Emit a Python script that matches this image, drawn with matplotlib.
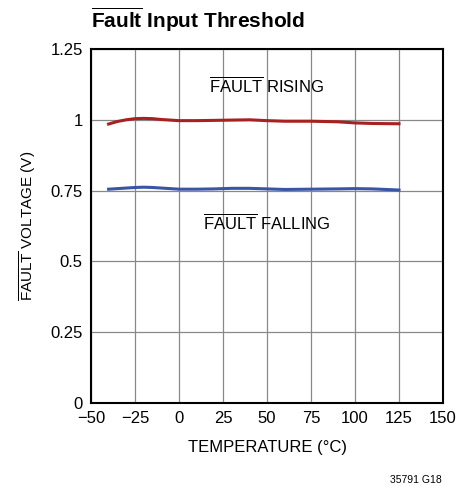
import matplotlib
matplotlib.use("Agg")
import matplotlib.pyplot as plt
from matplotlib import font_manager

# pick a narrow font if there is one
names = set(f.name for f in font_manager.fontManager.ttflist)
fam = "Liberation Sans Narrow" if "Liberation Sans Narrow" in names else "Liberation Sans"
plt.rcParams['font.family'] = [fam, 'DejaVu Sans']
plt.rcParams['mathtext.fontset'] = 'custom'
plt.rcParams['mathtext.rm'] = fam
plt.rcParams['mathtext.bf'] = fam + ':bold'

# data
temp = [-40, -35, -30, -25, -20, -15, -10, 0, 10, 20, 30, 40, 50, 60, 75, 90, 100, 110, 125]
rising = [0.985, 0.994, 1.000, 1.004, 1.005, 1.004, 1.001, 0.997, 0.997, 0.998, 0.999, 1.0, 0.997, 0.995, 0.995, 0.993, 0.989, 0.987, 0.986]
falling = [0.755, 0.757, 0.759, 0.761, 0.762, 0.761, 0.759, 0.755, 0.755, 0.756, 0.758, 0.758, 0.756, 0.754, 0.755, 0.756, 0.757, 0.756, 0.752]

xticks = [-50, -25, 0, 25, 50, 75, 100, 125, 150]
xlabels = ['\u221250', '\u221225', '0', '25', '50', '75', '100', '125', '150']
yticks = [0, 0.25, 0.5, 0.75, 1, 1.25]
ylabels = ['0', '0.25', '0.5', '0.75', '1', '1.25']

fig = plt.figure(figsize=(4.71, 4.86), dpi=100)
ax = fig.add_axes([91/471, 1 - 403/486, 352/471, 354/486])

ax.plot(temp, rising, color='#a8201f', lw=2.2)
ax.plot(temp, falling, color='#3a55a5', lw=2.2)

ax.set_xlim(-50, 150)
ax.set_ylim(0, 1.25)
ax.set_xticks(xticks)
ax.set_xticklabels(xlabels)
ax.set_yticks(yticks)
ax.set_yticklabels(ylabels)
ax.tick_params(length=0, labelsize=12, pad=6)
ax.grid(True, color='#888888', lw=0.9)
for s in ax.spines.values():
    s.set_linewidth(1.5)

ax.text(50, 1.12, r'$\overline{\mathrm{FAULT}}$ RISING', ha='center', va='center', fontsize=12)
ax.text(50, 0.635, r'$\overline{\mathrm{FAULT}}$ FALLING', ha='center', va='center', fontsize=12)

ax.set_xlabel('TEMPERATURE (\u00b0C)', fontsize=12, labelpad=10)
ax.set_ylabel(r'$\overline{\mathrm{FAULT}}$ VOLTAGE (V)', fontsize=11, labelpad=9)

fig.text(91/471, 1 - 20/486, r'$\overline{\mathbf{Fault}}$ Input Threshold', fontsize=15,
         fontweight='bold', ha='left', va='center')
fig.text(442/471, 1 - 480/486, '35791 G18', fontsize=7.5, ha='right', va='center')

fig.savefig('out.png', dpi=100)
